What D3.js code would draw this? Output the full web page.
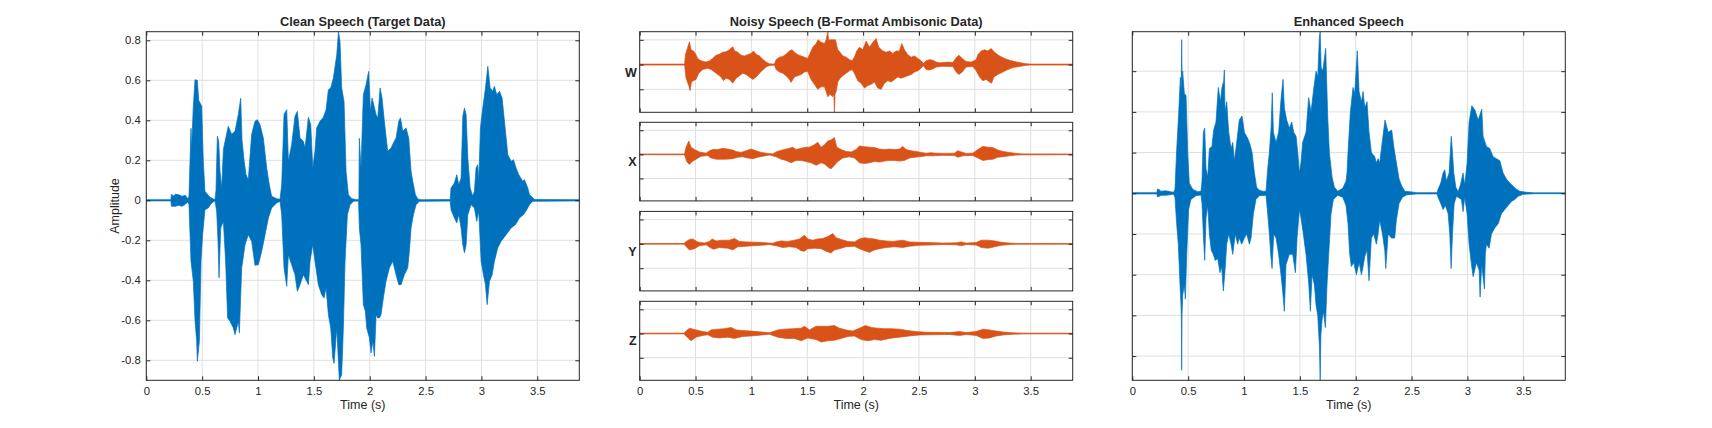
<!DOCTYPE html>
<html><head><meta charset="utf-8">
<script src="https://cdn.jsdelivr.net/npm/d3@7"></script>
<style>
body{margin:0;background:#fff;}
svg{display:block;}
</style></head><body>
<svg id="chart" width="1712" height="428"></svg>
<script>
// ---------------- DATA ----------------
const timeTicks = [0, 0.5, 1, 1.5, 2, 2.5, 3, 3.5];
const timeTickLabels = ["0", "0.5", "1", "1.5", "2", "2.5", "3", "3.5"];
const timeMax = 3.876;
const ampTicks = [-0.8, -0.6, -0.4, -0.2, 0, 0.2, 0.4, 0.6, 0.8];
const ampTickLabels = ["-0.8", "-0.6", "-0.4", "-0.2", "0", "0.2", "0.4", "0.6", "0.8"];
const cleanDomain = [-0.9, 0.843];
const enhancedTicks = [-0.8, -0.6, -0.4, -0.2, 0, 0.2, 0.4, 0.6];
const enhancedDomain = [-0.919, 0.794];
const channelNames = ["W", "X", "Y", "Z"];
const channelTicks = [-1, 0, 1];
const channelDomain = [-1.93, 1.33];
const titles = ["Clean Speech (Target Data)", "Noisy Speech (B-Format Ambisonic Data)", "Enhanced Speech"];

// waveform envelopes: [time (s), amplitude]
const cleanUpper = [[0,0.003],[0.22,0.003],[0.225,0.03],[0.245,0.022],[0.26,0.03],[0.29,0.028],[0.32,0.02],[0.35,0.025],[0.37,0.008],[0.382,0.02],[0.4,0.36],[0.405,0.25],[0.42,0.46],[0.436,0.603],[0.457,0.6],[0.469,0.5],[0.496,0.47],[0.51,0.2],[0.525,0.045],[0.57,0.015],[0.615,0.003],[0.624,0.05],[0.636,0.32],[0.648,0.295],[0.66,0.145],[0.675,0.06],[0.69,0.253],[0.705,0.295],[0.734,0.37],[0.764,0.33],[0.794,0.345],[0.824,0.43],[0.845,0.51],[0.857,0.3],[0.875,0.2],[0.893,0.128],[0.913,0.103],[0.943,0.33],[0.973,0.395],[0.994,0.403],[1.018,0.378],[1.048,0.31],[1.078,0.16],[1.101,0.078],[1.122,0.02],[1.167,0.008],[1.197,0.005],[1.212,0.078],[1.233,0.43],[1.257,0.453],[1.272,0.195],[1.301,0.278],[1.331,0.42],[1.352,0.445],[1.376,0.312],[1.406,0.295],[1.421,0.262],[1.451,0.415],[1.472,0.378],[1.49,0.162],[1.51,0.245],[1.525,0.362],[1.555,0.395],[1.585,0.415],[1.609,0.453],[1.63,0.553],[1.651,0.562],[1.675,0.612],[1.705,0.728],[1.72,0.843],[1.734,0.795],[1.749,0.562],[1.77,0.495],[1.788,0.145],[1.809,0.028],[1.839,0.008],[1.884,0.003],[1.903,0.005],[1.907,0.31],[1.922,0.162],[1.943,0.528],[1.967,0.578],[1.991,0.645],[2.006,0.445],[2.021,0.512],[2.039,0.47],[2.057,0.428],[2.072,0.412],[2.093,0.562],[2.11,0.512],[2.131,0.395],[2.161,0.245],[2.191,0.262],[2.212,0.287],[2.236,0.312],[2.26,0.395],[2.275,0.412],[2.296,0.345],[2.325,0.362],[2.349,0.312],[2.37,0.145],[2.385,0.095],[2.409,0.028],[2.43,0.007],[2.46,0.003],[2.72,0.004],[2.728,0.062],[2.758,0.087],[2.779,0.128],[2.797,0.078],[2.818,0.112],[2.833,0.42],[2.848,0.462],[2.863,0.428],[2.878,0.212],[2.899,0.062],[2.922,0.02],[2.937,0.045],[2.952,0.162],[2.967,0.178],[2.976,0.095],[2.991,0.362],[3.012,0.462],[3.036,0.562],[3.057,0.67],[3.078,0.562],[3.101,0.545],[3.116,0.57],[3.137,0.528],[3.161,0.545],[3.185,0.512],[3.206,0.395],[3.236,0.228],[3.266,0.195],[3.287,0.203],[3.31,0.162],[3.334,0.128],[3.37,0.095],[3.385,0.103],[3.415,0.062],[3.43,0.028],[3.445,0.02],[3.475,0.004],[3.876,0.003]];
const cleanLower = [[0,-0.003],[0.22,-0.003],[0.225,-0.03],[0.26,-0.03],[0.29,-0.025],[0.32,-0.03],[0.35,-0.02],[0.37,-0.008],[0.382,-0.02],[0.4,-0.305],[0.421,-0.405],[0.436,-0.6],[0.451,-0.705],[0.457,-0.805],[0.475,-0.705],[0.49,-0.305],[0.504,-0.172],[0.525,-0.047],[0.555,-0.038],[0.585,-0.013],[0.615,-0.003],[0.63,-0.055],[0.642,-0.205],[0.651,-0.388],[0.666,-0.138],[0.69,-0.105],[0.71,-0.305],[0.728,-0.588],[0.749,-0.605],[0.779,-0.638],[0.794,-0.672],[0.824,-0.605],[0.833,-0.663],[0.854,-0.338],[0.884,-0.222],[0.913,-0.172],[0.943,-0.205],[0.973,-0.325],[1.003,-0.322],[1.033,-0.255],[1.063,-0.172],[1.093,-0.088],[1.122,-0.038],[1.167,-0.013],[1.197,-0.005],[1.212,-0.072],[1.233,-0.338],[1.257,-0.43],[1.272,-0.272],[1.301,-0.322],[1.331,-0.372],[1.352,-0.455],[1.376,-0.422],[1.406,-0.372],[1.436,-0.405],[1.451,-0.422],[1.466,-0.305],[1.49,-0.222],[1.51,-0.305],[1.54,-0.422],[1.57,-0.472],[1.591,-0.488],[1.609,-0.438],[1.63,-0.572],[1.651,-0.638],[1.669,-0.788],[1.681,-0.815],[1.705,-0.638],[1.728,-0.9],[1.749,-0.872],[1.764,-0.638],[1.779,-0.305],[1.8,-0.072],[1.824,-0.022],[1.854,-0.005],[1.9,-0.003],[1.907,-0.138],[1.922,-0.222],[1.943,-0.522],[1.961,-0.555],[1.973,-0.638],[1.997,-0.688],[2.012,-0.763],[2.027,-0.705],[2.042,-0.78],[2.057,-0.572],[2.072,-0.588],[2.087,-0.588],[2.101,-0.572],[2.122,-0.488],[2.146,-0.405],[2.176,-0.338],[2.206,-0.305],[2.236,-0.372],[2.26,-0.422],[2.281,-0.422],[2.31,-0.372],[2.34,-0.338],[2.355,-0.255],[2.37,-0.138],[2.391,-0.072],[2.415,-0.022],[2.445,-0.005],[2.72,-0.004],[2.728,-0.047],[2.758,-0.088],[2.779,-0.113],[2.797,-0.072],[2.818,-0.138],[2.833,-0.222],[2.848,-0.263],[2.863,-0.222],[2.878,-0.072],[2.907,-0.022],[2.937,-0.038],[2.958,-0.105],[2.976,-0.055],[2.997,-0.305],[3.018,-0.372],[3.036,-0.422],[3.051,-0.522],[3.072,-0.405],[3.096,-0.372],[3.116,-0.305],[3.146,-0.238],[3.176,-0.205],[3.221,-0.172],[3.266,-0.138],[3.304,-0.122],[3.34,-0.088],[3.376,-0.072],[3.4,-0.052],[3.43,-0.022],[3.46,-0.005],[3.876,-0.003]];

const noisyWUpper = [[0,0.02],[0.4,0.02],[0.403,0.05],[0.409,0.4],[0.43,0.7],[0.445,0.92],[0.46,0.6],[0.481,0.55],[0.498,0.45],[0.519,0.25],[0.549,0.15],[0.594,0.1],[0.624,0.15],[0.654,0.25],[0.684,0.38],[0.713,0.42],[0.743,0.5],[0.773,0.52],[0.803,0.6],[0.833,0.72],[0.851,0.55],[0.878,0.5],[0.907,0.38],[0.937,0.35],[0.967,0.4],[0.997,0.45],[1.018,0.55],[1.042,0.42],[1.072,0.35],[1.101,0.22],[1.131,0.1],[1.161,0.03],[1.206,0.02],[1.221,0.2],[1.251,0.3],[1.281,0.33],[1.31,0.42],[1.34,0.55],[1.364,0.6],[1.385,0.5],[1.415,0.4],[1.445,0.35],[1.475,0.3],[1.504,0.25],[1.519,0.4],[1.549,0.7],[1.579,0.85],[1.597,1.0],[1.624,0.9],[1.654,0.85],[1.669,1.0],[1.684,1.33],[1.69,1.0],[1.728,1.0],[1.752,1.0],[1.773,0.6],[1.794,0.5],[1.818,0.35],[1.848,0.3],[1.878,0.2],[1.901,0.15],[1.922,0.3],[1.943,0.55],[1.967,0.7],[1.997,0.6],[2.027,0.95],[2.057,0.7],[2.087,0.9],[2.116,1.05],[2.14,0.7],[2.176,0.55],[2.206,0.5],[2.236,0.55],[2.266,0.45],[2.296,0.55],[2.325,0.55],[2.346,0.85],[2.37,0.6],[2.4,0.4],[2.43,0.3],[2.46,0.35],[2.49,0.25],[2.519,0.15],[2.54,0.05],[2.564,0.15],[2.594,0.2],[2.624,0.18],[2.654,0.1],[2.684,0.07],[2.713,0.08],[2.758,0.1],[2.803,0.08],[2.833,0.28],[2.857,0.38],[2.887,0.25],[2.922,0.12],[2.967,0.1],[3.012,0.2],[3.027,0.4],[3.057,0.55],[3.087,0.6],[3.116,0.55],[3.146,0.65],[3.176,0.5],[3.221,0.35],[3.266,0.25],[3.31,0.18],[3.355,0.12],[3.4,0.08],[3.445,0.04],[3.49,0.02],[3.876,0.02]];
const noisyWLower = [[0,-0.02],[0.4,-0.02],[0.403,-0.05],[0.415,-0.55],[0.439,-0.85],[0.451,-1.05],[0.463,-0.7],[0.481,-0.65],[0.504,-0.6],[0.528,-0.35],[0.564,-0.2],[0.609,-0.15],[0.639,-0.2],[0.669,-0.3],[0.699,-0.4],[0.728,-0.5],[0.749,-0.65],[0.773,-0.55],[0.803,-0.6],[0.833,-0.75],[0.863,-0.55],[0.893,-0.45],[0.922,-0.35],[0.952,-0.4],[0.982,-0.5],[1.012,-0.6],[1.042,-0.5],[1.072,-0.35],[1.101,-0.22],[1.131,-0.1],[1.161,-0.04],[1.206,-0.02],[1.221,-0.2],[1.251,-0.3],[1.281,-0.35],[1.31,-0.45],[1.34,-0.6],[1.355,-0.72],[1.385,-0.5],[1.415,-0.45],[1.445,-0.4],[1.475,-0.3],[1.504,-0.28],[1.534,-0.6],[1.564,-0.8],[1.594,-1.0],[1.624,-0.9],[1.654,-0.9],[1.684,-1.3],[1.704,-1.2],[1.728,-1.3],[1.738,-1.2],[1.743,-1.93],[1.748,-1.2],[1.758,-1.1],[1.773,-0.7],[1.794,-0.55],[1.818,-0.45],[1.848,-0.35],[1.878,-0.25],[1.901,-0.2],[1.922,-0.35],[1.952,-0.65],[1.982,-0.75],[2.012,-0.95],[2.042,-0.85],[2.072,-0.8],[2.101,-0.7],[2.131,-0.95],[2.161,-1.0],[2.191,-0.75],[2.221,-0.65],[2.251,-0.7],[2.281,-0.6],[2.31,-0.5],[2.34,-0.55],[2.37,-0.5],[2.4,-0.45],[2.43,-0.4],[2.46,-0.3],[2.49,-0.25],[2.519,-0.15],[2.54,-0.05],[2.564,-0.2],[2.594,-0.22],[2.624,-0.18],[2.654,-0.1],[2.713,-0.07],[2.803,-0.08],[2.833,-0.3],[2.857,-0.4],[2.887,-0.3],[2.922,-0.1],[2.982,-0.08],[3.012,-0.25],[3.042,-0.5],[3.072,-0.65],[3.101,-0.6],[3.131,-0.7],[3.15,-0.75],[3.17,-0.5],[3.206,-0.4],[3.251,-0.3],[3.296,-0.2],[3.34,-0.12],[3.4,-0.08],[3.445,-0.04],[3.49,-0.02],[3.876,-0.02]];
const noisyXUpper = [[0,0.015],[0.4,0.015],[0.403,0.05],[0.415,0.3],[0.439,0.55],[0.46,0.3],[0.49,0.2],[0.534,0.1],[0.594,0.05],[0.624,0.15],[0.654,0.2],[0.699,0.2],[0.743,0.25],[0.788,0.22],[0.833,0.18],[0.863,0.12],[0.907,0.08],[0.952,0.15],[0.997,0.22],[1.042,0.15],[1.087,0.08],[1.131,0.05],[1.191,0.02],[1.221,0.1],[1.251,0.15],[1.296,0.2],[1.34,0.25],[1.37,0.3],[1.4,0.2],[1.445,0.25],[1.49,0.3],[1.519,0.3],[1.564,0.4],[1.594,0.5],[1.624,0.3],[1.654,0.4],[1.684,0.55],[1.713,0.6],[1.743,0.7],[1.764,0.3],[1.803,0.2],[1.848,0.12],[1.893,0.1],[1.937,0.2],[1.967,0.35],[2.012,0.32],[2.057,0.3],[2.101,0.28],[2.146,0.22],[2.191,0.2],[2.236,0.22],[2.281,0.2],[2.325,0.22],[2.355,0.33],[2.385,0.2],[2.43,0.15],[2.475,0.12],[2.519,0.08],[2.564,0.05],[2.609,0.07],[2.654,0.05],[2.743,0.04],[2.818,0.05],[2.848,0.15],[2.878,0.1],[2.922,0.04],[2.982,0.05],[3.027,0.2],[3.072,0.33],[3.116,0.3],[3.161,0.28],[3.206,0.18],[3.251,0.12],[3.31,0.08],[3.37,0.04],[3.43,0.02],[3.876,0.015]];
const noisyXLower = [[0,-0.015],[0.4,-0.015],[0.403,-0.05],[0.421,-0.3],[0.445,-0.42],[0.469,-0.3],[0.504,-0.2],[0.549,-0.08],[0.609,-0.05],[0.639,-0.15],[0.684,-0.2],[0.728,-0.2],[0.773,-0.2],[0.833,-0.18],[0.878,-0.12],[0.922,-0.1],[0.967,-0.15],[1.012,-0.18],[1.057,-0.12],[1.101,-0.08],[1.161,-0.03],[1.221,-0.1],[1.266,-0.2],[1.31,-0.25],[1.355,-0.35],[1.4,-0.25],[1.445,-0.25],[1.49,-0.3],[1.534,-0.35],[1.579,-0.45],[1.624,-0.35],[1.654,-0.4],[1.693,-0.55],[1.713,-0.6],[1.743,-0.45],[1.773,-0.3],[1.818,-0.15],[1.878,-0.1],[1.922,-0.15],[1.967,-0.35],[2.012,-0.38],[2.057,-0.35],[2.101,-0.3],[2.146,-0.32],[2.191,-0.28],[2.236,-0.25],[2.281,-0.25],[2.325,-0.28],[2.37,-0.25],[2.415,-0.15],[2.46,-0.12],[2.504,-0.1],[2.564,-0.06],[2.624,-0.06],[2.713,-0.04],[2.818,-0.05],[2.848,-0.12],[2.893,-0.06],[2.982,-0.05],[3.027,-0.15],[3.072,-0.25],[3.116,-0.22],[3.161,-0.2],[3.206,-0.12],[3.251,-0.1],[3.31,-0.06],[3.37,-0.03],[3.43,-0.02],[3.876,-0.015]];
const noisyYUpper = [[0,0.012],[0.4,0.012],[0.403,0.05],[0.445,0.18],[0.475,0.2],[0.519,0.08],[0.579,0.03],[0.624,0.1],[0.648,0.2],[0.684,0.12],[0.743,0.15],[0.803,0.15],[0.848,0.22],[0.893,0.1],[0.952,0.08],[1.012,0.07],[1.072,0.06],[1.131,0.04],[1.191,0.02],[1.221,0.08],[1.266,0.12],[1.325,0.1],[1.385,0.15],[1.43,0.2],[1.475,0.35],[1.504,0.2],[1.549,0.15],[1.594,0.2],[1.639,0.22],[1.684,0.3],[1.728,0.42],[1.758,0.25],[1.803,0.18],[1.863,0.1],[1.922,0.08],[1.967,0.2],[2.012,0.25],[2.057,0.22],[2.101,0.2],[2.146,0.15],[2.206,0.12],[2.266,0.1],[2.355,0.15],[2.415,0.08],[2.504,0.06],[2.594,0.05],[2.713,0.03],[2.833,0.04],[2.878,0.08],[2.922,0.03],[3.012,0.05],[3.057,0.15],[3.116,0.15],[3.176,0.12],[3.236,0.06],[3.31,0.03],[3.37,0.015],[3.876,0.012]];
const noisyYLower = [[0,-0.012],[0.4,-0.012],[0.403,-0.05],[0.445,-0.25],[0.49,-0.2],[0.534,-0.08],[0.594,-0.04],[0.63,-0.15],[0.66,-0.22],[0.713,-0.15],[0.788,-0.18],[0.833,-0.25],[0.878,-0.12],[0.952,-0.1],[1.012,-0.08],[1.087,-0.06],[1.161,-0.03],[1.221,-0.08],[1.281,-0.15],[1.34,-0.12],[1.4,-0.15],[1.445,-0.28],[1.475,-0.3],[1.504,-0.2],[1.564,-0.18],[1.624,-0.2],[1.669,-0.3],[1.713,-0.38],[1.743,-0.25],[1.788,-0.2],[1.848,-0.12],[1.922,-0.1],[1.967,-0.2],[2.012,-0.28],[2.057,-0.35],[2.101,-0.25],[2.146,-0.2],[2.206,-0.15],[2.281,-0.12],[2.355,-0.15],[2.415,-0.1],[2.504,-0.06],[2.594,-0.05],[2.713,-0.03],[2.833,-0.04],[2.878,-0.08],[2.922,-0.03],[3.012,-0.05],[3.057,-0.15],[3.116,-0.18],[3.176,-0.12],[3.236,-0.06],[3.31,-0.03],[3.37,-0.015],[3.876,-0.012]];
const noisyZUpper = [[0,0.015],[0.4,0.015],[0.403,0.05],[0.445,0.22],[0.504,0.15],[0.564,0.08],[0.609,0.05],[0.639,0.15],[0.699,0.18],[0.758,0.2],[0.818,0.25],[0.863,0.15],[0.922,0.12],[0.997,0.1],[1.072,0.07],[1.161,0.03],[1.236,0.15],[1.296,0.18],[1.37,0.2],[1.445,0.22],[1.475,0.3],[1.519,0.15],[1.579,0.3],[1.624,0.3],[1.684,0.3],[1.743,0.33],[1.788,0.22],[1.848,0.15],[1.907,0.1],[1.967,0.22],[2.021,0.33],[2.072,0.25],[2.131,0.22],[2.191,0.2],[2.251,0.2],[2.325,0.18],[2.4,0.12],[2.475,0.08],[2.564,0.05],[2.654,0.05],[2.773,0.04],[2.863,0.08],[2.922,0.04],[3.012,0.08],[3.072,0.18],[3.131,0.15],[3.191,0.1],[3.251,0.06],[3.34,0.03],[3.43,0.015],[3.876,0.015]];
const noisyZLower = [[0,-0.015],[0.4,-0.015],[0.403,-0.05],[0.46,-0.3],[0.504,-0.15],[0.564,-0.08],[0.609,-0.05],[0.654,-0.15],[0.713,-0.18],[0.788,-0.15],[0.848,-0.2],[0.922,-0.12],[0.997,-0.1],[1.072,-0.07],[1.161,-0.03],[1.236,-0.15],[1.31,-0.2],[1.385,-0.2],[1.445,-0.3],[1.504,-0.18],[1.579,-0.25],[1.624,-0.35],[1.684,-0.3],[1.743,-0.28],[1.803,-0.2],[1.863,-0.12],[1.922,-0.1],[1.982,-0.25],[2.042,-0.3],[2.101,-0.25],[2.161,-0.28],[2.236,-0.2],[2.325,-0.15],[2.415,-0.1],[2.504,-0.06],[2.594,-0.05],[2.773,-0.04],[2.863,-0.08],[2.922,-0.04],[3.012,-0.08],[3.072,-0.2],[3.131,-0.18],[3.191,-0.1],[3.251,-0.06],[3.34,-0.03],[3.43,-0.015],[3.876,-0.015]];

const enhancedUpper = [[0,0.003],[0.22,0.003],[0.225,0.021],[0.24,0.018],[0.255,0.01],[0.3,0.012],[0.34,0.008],[0.37,0.005],[0.382,0.02],[0.397,0.21],[0.415,0.39],[0.43,0.57],[0.438,0.5],[0.442,0.755],[0.446,0.55],[0.451,0.6],[0.466,0.49],[0.481,0.48],[0.496,0.2],[0.51,0.05],[0.54,0.02],[0.585,0.008],[0.615,0.01],[0.624,0.06],[0.636,0.3],[0.648,0.32],[0.66,0.12],[0.675,0.08],[0.69,0.22],[0.713,0.23],[0.728,0.31],[0.749,0.35],[0.77,0.52],[0.788,0.45],[0.803,0.52],[0.818,0.55],[0.824,0.606],[0.83,0.4],[0.845,0.45],[0.863,0.3],[0.884,0.22],[0.899,0.25],[0.913,0.16],[0.928,0.22],[0.958,0.36],[0.982,0.38],[1.003,0.3],[1.033,0.27],[1.054,0.24],[1.072,0.2],[1.093,0.1],[1.113,0.03],[1.137,0.015],[1.167,0.01],[1.197,0.01],[1.212,0.12],[1.227,0.2],[1.242,0.32],[1.253,0.494],[1.263,0.3],[1.287,0.25],[1.31,0.3],[1.331,0.46],[1.349,0.56],[1.361,0.42],[1.382,0.36],[1.406,0.32],[1.427,0.35],[1.445,0.3],[1.466,0.28],[1.481,0.2],[1.496,0.1],[1.51,0.15],[1.525,0.25],[1.555,0.3],[1.579,0.47],[1.6,0.4],[1.621,0.5],[1.645,0.6],[1.66,0.57],[1.675,0.77],[1.682,0.794],[1.69,0.62],[1.705,0.6],[1.731,0.712],[1.74,0.55],[1.749,0.38],[1.764,0.2],[1.788,0.08],[1.809,0.03],[1.839,0.01],[1.884,0.025],[1.913,0.06],[1.922,0.1],[1.931,0.2],[1.952,0.4],[1.976,0.52],[1.991,0.49],[2.014,0.7],[2.03,0.5],[2.051,0.45],[2.066,0.5],[2.081,0.42],[2.101,0.45],[2.119,0.3],[2.14,0.2],[2.17,0.18],[2.185,0.15],[2.2,0.17],[2.215,0.15],[2.239,0.26],[2.262,0.36],[2.29,0.3],[2.322,0.311],[2.343,0.22],[2.364,0.15],[2.388,0.07],[2.409,0.04],[2.439,0.01],[2.484,0.008],[2.543,0.003],[2.728,0.003],[2.737,0.02],[2.761,0.05],[2.782,0.1],[2.797,0.115],[2.812,0.06],[2.836,0.1],[2.855,0.28],[2.866,0.2],[2.878,0.1],[2.896,0.03],[2.916,0.008],[2.937,0.04],[2.961,0.1],[2.976,0.04],[2.997,0.15],[3.015,0.35],[3.039,0.43],[3.066,0.41],[3.096,0.36],[3.128,0.413],[3.14,0.28],[3.17,0.23],[3.2,0.22],[3.23,0.18],[3.26,0.17],[3.29,0.16],[3.319,0.1],[3.349,0.07],[3.379,0.05],[3.409,0.035],[3.439,0.02],[3.469,0.01],[3.528,0.005],[3.6,0.002],[3.876,0.002]];
const enhancedLower = [[0,-0.003],[0.22,-0.003],[0.225,-0.018],[0.24,-0.015],[0.26,-0.01],[0.3,-0.01],[0.37,-0.005],[0.382,-0.02],[0.397,-0.15],[0.412,-0.25],[0.427,-0.45],[0.436,-0.55],[0.439,-0.6],[0.442,-0.87],[0.445,-0.6],[0.451,-0.5],[0.466,-0.45],[0.475,-0.52],[0.487,-0.3],[0.504,-0.08],[0.525,-0.03],[0.57,-0.012],[0.615,-0.008],[0.624,-0.05],[0.636,-0.2],[0.648,-0.33],[0.66,-0.12],[0.675,-0.06],[0.69,-0.2],[0.707,-0.28],[0.725,-0.3],[0.743,-0.33],[0.764,-0.32],[0.785,-0.39],[0.8,-0.36],[0.815,-0.48],[0.83,-0.38],[0.845,-0.25],[0.863,-0.2],[0.884,-0.25],[0.899,-0.3],[0.922,-0.2],[0.943,-0.25],[0.958,-0.22],[0.979,-0.25],[1.003,-0.22],[1.024,-0.2],[1.048,-0.25],[1.063,-0.22],[1.084,-0.1],[1.107,-0.03],[1.137,-0.012],[1.197,-0.01],[1.212,-0.1],[1.227,-0.2],[1.239,-0.3],[1.251,-0.37],[1.266,-0.2],[1.287,-0.22],[1.31,-0.3],[1.331,-0.4],[1.346,-0.48],[1.361,-0.58],[1.376,-0.35],[1.406,-0.3],[1.436,-0.3],[1.46,-0.39],[1.475,-0.22],[1.496,-0.08],[1.51,-0.12],[1.531,-0.2],[1.555,-0.3],[1.579,-0.44],[1.594,-0.58],[1.609,-0.4],[1.63,-0.45],[1.645,-0.55],[1.66,-0.6],[1.675,-0.75],[1.682,-0.919],[1.688,-0.7],[1.699,-0.62],[1.711,-0.58],[1.728,-0.66],[1.743,-0.45],[1.758,-0.3],[1.779,-0.1],[1.8,-0.03],[1.839,-0.01],[1.884,-0.02],[1.913,-0.06],[1.931,-0.15],[1.946,-0.3],[1.961,-0.36],[1.982,-0.34],[2.006,-0.4],[2.03,-0.34],[2.051,-0.4],[2.066,-0.36],[2.081,-0.31],[2.101,-0.28],[2.119,-0.43],[2.14,-0.22],[2.161,-0.2],[2.185,-0.25],[2.2,-0.2],[2.215,-0.13],[2.239,-0.2],[2.26,-0.28],[2.269,-0.37],[2.29,-0.2],[2.319,-0.22],[2.349,-0.22],[2.364,-0.13],[2.388,-0.05],[2.418,-0.02],[2.454,-0.008],[2.543,-0.003],[2.728,-0.003],[2.737,-0.02],[2.761,-0.05],[2.782,-0.08],[2.803,-0.06],[2.827,-0.1],[2.842,-0.2],[2.854,-0.37],[2.866,-0.2],[2.881,-0.05],[2.902,-0.015],[2.946,-0.03],[2.961,-0.09],[2.976,-0.02],[2.997,-0.1],[3.015,-0.25],[3.036,-0.35],[3.051,-0.41],[3.081,-0.34],[3.105,-0.38],[3.113,-0.51],[3.128,-0.35],[3.152,-0.47],[3.16,-0.3],[3.17,-0.25],[3.194,-0.27],[3.215,-0.2],[3.245,-0.17],[3.275,-0.15],[3.304,-0.1],[3.334,-0.08],[3.364,-0.06],[3.394,-0.04],[3.424,-0.03],[3.454,-0.015],[3.498,-0.005],[3.6,-0.002],[3.876,-0.002]];

const noisyUpper = [noisyWUpper, noisyXUpper, noisyYUpper, noisyZUpper];
const noisyLower = [noisyWLower, noisyXLower, noisyYLower, noisyZLower];

// ---------------- LAYOUT / STYLE ----------------
const FONT = '"Liberation Sans", Arial, Helvetica, sans-serif';
const TEXT = "#262626";
const GRID = "#dfdfdf";
const BLUE = "#0072BD";
const ORANGE = "#D95319";
const panelLeft = [146.3, 639.7, 1132.3];
const panelWidth = 433;
const panelTop = 31.7, panelBottom = 380.3;
const subTop = [31.7, 122.3, 211.4, 301.3];
const subBottom = [112.3, 200.9, 290.9, 380.3];
const TICK = 4;

const svg = d3.select("#chart");
svg.append("rect").attr("width", 1712).attr("height", 428).attr("fill", "#fff");
const defs = svg.append("defs");
let clipId = 0;

function drawAxes(x, y, opt) {
  const g = svg.append("g");
  const [xa, xb] = x.range();
  const [yb, ya] = y.range();
  // grid
  g.append("g").selectAll("line").data(timeTicks).join("line")
    .attr("x1", d => x(d)).attr("x2", d => x(d)).attr("y1", ya).attr("y2", yb)
    .attr("stroke", GRID).attr("stroke-width", 1);
  g.append("g").selectAll("line").data(opt.yTicks).join("line")
    .attr("x1", xa).attr("x2", xb).attr("y1", d => y(d)).attr("y2", d => y(d))
    .attr("stroke", GRID).attr("stroke-width", 1);
  // waveform
  const id = "clip" + (clipId++);
  defs.append("clipPath").attr("id", id).append("rect")
    .attr("x", xa).attr("y", ya).attr("width", xb - xa).attr("height", yb - ya);
  const line = d3.line().x(d => x(d[0])).y(d => y(d[1]));
  const pts = opt.upper.concat(opt.lower.slice().reverse());
  g.append("path").attr("clip-path", `url(#${id})`)
    .attr("d", line(pts) + "Z")
    .attr("fill", opt.color).attr("stroke", opt.color)
    .attr("stroke-width", 0.7).attr("stroke-linejoin", "round");
  // axes (ticks inside on all sides)
  const styleAxis = a => {
    a.select(".domain").remove();
    a.attr("color", TEXT).attr("font-family", FONT).attr("font-size", null);
    a.selectAll("text").attr("fill", TEXT).style("font-size", "11.3px").style("font-family", FONT);
  };
  const bottom = d3.axisBottom(x).tickValues(timeTicks).tickSize(-TICK).tickPadding(6.4)
    .tickFormat(opt.xLabels ? ((d, i) => timeTickLabels[i]) : () => "");
  g.append("g").attr("transform", `translate(0,${yb})`).call(bottom).call(styleAxis);
  g.append("g").attr("transform", `translate(0,${ya})`)
    .call(d3.axisTop(x).tickValues(timeTicks).tickSize(-TICK).tickFormat(() => "")).call(styleAxis);
  const left = d3.axisLeft(y).tickValues(opt.yTicks).tickSize(-TICK).tickPadding(5.6)
    .tickFormat(opt.yLabels ? ((d, i) => opt.yLabels[i]) : () => "");
  g.append("g").attr("transform", `translate(${xa},0)`).call(left).call(styleAxis);
  g.append("g").attr("transform", `translate(${xb},0)`)
    .call(d3.axisRight(y).tickValues(opt.yTicks).tickSize(-TICK).tickFormat(() => "")).call(styleAxis);
  // box
  g.append("rect").attr("x", xa).attr("y", ya).attr("width", xb - xa).attr("height", yb - ya)
    .attr("fill", "none").attr("stroke", TEXT).attr("stroke-width", 1);
  return g;
}

function xScale(i) {
  return d3.scaleLinear().domain([0, timeMax]).range([panelLeft[i], panelLeft[i] + panelWidth]);
}

// Panel 1: clean
const x1 = xScale(0);
const y1 = d3.scaleLinear().domain(cleanDomain).range([panelBottom, panelTop]);
drawAxes(x1, y1, { yTicks: ampTicks, yLabels: ampTickLabels, xLabels: true, upper: cleanUpper, lower: cleanLower, color: BLUE });

// Panel 2: noisy channels
const x2 = xScale(1);
channelNames.forEach((name, i) => {
  const y = d3.scaleLinear().domain(channelDomain).range([subBottom[i], subTop[i]]);
  drawAxes(x2, y, { yTicks: channelTicks, yLabels: null, xLabels: i === 3, upper: noisyUpper[i], lower: noisyLower[i], color: ORANGE });
  svg.append("text").attr("x", panelLeft[1] - 3).attr("y", (subTop[i] + subBottom[i]) / 2 + 4.6)
    .attr("text-anchor", "end").attr("font-family", FONT).attr("font-weight", "bold")
    .attr("font-size", "12.5px").attr("fill", TEXT).text(name);
});

// Panel 3: enhanced
const x3 = xScale(2);
const y3 = d3.scaleLinear().domain(enhancedDomain).range([panelBottom, panelTop]);
drawAxes(x3, y3, { yTicks: enhancedTicks, yLabels: null, xLabels: true, upper: enhancedUpper, lower: enhancedLower, color: BLUE });

// titles and axis labels
titles.forEach((t, i) => {
  svg.append("text").attr("x", panelLeft[i] + panelWidth / 2).attr("y", 26)
    .attr("text-anchor", "middle").attr("font-family", FONT).attr("font-weight", "bold")
    .attr("font-size", "12.8px").attr("fill", TEXT).text(t);
  svg.append("text").attr("x", panelLeft[i] + panelWidth / 2).attr("y", 409.3)
    .attr("text-anchor", "middle").attr("font-family", FONT)
    .attr("font-size", "12.5px").attr("fill", TEXT).text("Time (s)");
});
svg.append("text").attr("transform", `translate(119,${(panelTop + panelBottom) / 2}) rotate(-90)`)
  .attr("text-anchor", "middle").attr("font-family", FONT)
  .attr("font-size", "12.5px").attr("fill", TEXT).text("Amplitude");
</script>
</body></html>
